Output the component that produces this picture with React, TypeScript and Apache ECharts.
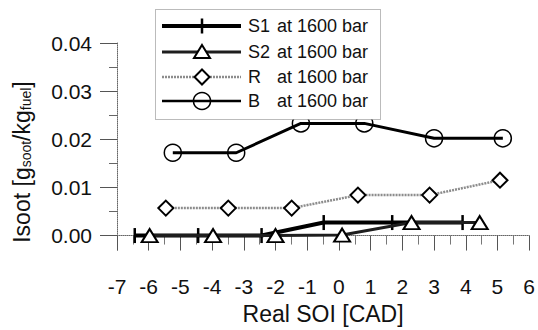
import React, { useEffect, useRef } from "react";
import * as echarts from "echarts";

const FONT = "Liberation Sans, Arial, Helvetica, sans-serif";

// Series data: x = Real SOI [CAD], y = Isoot [g_soot/kg_fuel]
const xS1 = [-6.44, -4.44, -2.44, -0.48, 1.68, 3.9];
const yS1 = [0, 0, 0, 0.0027, 0.0027, 0.0027];
const xS2 = [-5.97, -3.97, -2.0, 0.1, 2.29, 4.44];
const yS2 = [0, 0, 0, 0.0001, 0.0027, 0.0027];
const xR = [-5.46, -3.49, -1.49, 0.6, 2.86, 5.08];
const yR = [0.0057, 0.0057, 0.0057, 0.0084, 0.0084, 0.0115];
const xB = [-5.24, -3.24, -1.2, 0.8, 3.0, 5.17];
const yB = [0.0172, 0.0172, 0.0233, 0.0233, 0.0202, 0.0202];

const seriesNames = ["S1", "S2", "R", "B"];
const legendSuffix = "at 1600 bar";
const yMajorTicks = [0, 0.01, 0.02, 0.03, 0.04];
const yMinorTicks = [0.005, 0.015, 0.025, 0.035];
const xLabelName = "Real SOI [CAD]";

const pairs = (xs: number[], ys: number[]) => xs.map((x, i) => [x, ys[i]]);

export default function App() {
  const ref = useRef<HTMLDivElement>(null);
  useEffect(() => {
    document.body.style.margin = "0";
    if (!ref.current) return;
    const chart = echarts.init(ref.current, undefined, { renderer: "svg" });

    const axisLineStyle = { color: "#666", type: "dotted" as const, width: 1 };

    // Legend (drawn manually)
    const lx0 = 162, lx1 = 241, mx = 202, tx = 248, tx2 = 277;
    const rows = [26, 52, 77, 101];
    const legendEls: any[] = [
      {
        type: "rect",
        shape: { x: 155.5, y: 9.5, width: 225, height: 110 },
        style: { fill: "#fff", stroke: "#777", lineWidth: 1, lineDash: [1, 1] },
        z: 50,
      },
    ];
    const lineStyles = [
      { stroke: "#000", lineWidth: 4 },
      { stroke: "#1e1e1e", lineWidth: 3 },
      { stroke: "#8c8c8c", lineWidth: 2.5, lineDash: [2, 1] },
      { stroke: "#000", lineWidth: 2.5 },
    ];
    rows.forEach((ry, i) => {
      legendEls.push({
        type: "line",
        shape: { x1: lx0, y1: ry, x2: lx1, y2: ry },
        style: lineStyles[i],
        z: 51,
      });
      legendEls.push({
        type: "text",
        x: tx,
        y: ry,
        style: { text: seriesNames[i], fontSize: 18, fontFamily: FONT, fill: "#111", verticalAlign: "middle" },
        z: 52,
      });
      legendEls.push({
        type: "text",
        x: tx2,
        y: ry,
        style: { text: legendSuffix, fontSize: 18, fontFamily: FONT, fill: "#111", verticalAlign: "middle" },
        z: 52,
      });
    });
    legendEls.push({
      type: "rect",
      shape: { x: mx - 1.25, y: rows[0] - 7.5, width: 2.5, height: 15 },
      style: { fill: "#000" },
      z: 52,
    });
    legendEls.push({
      type: "polygon",
      shape: { points: [[mx, rows[1] - 7], [mx + 8, rows[1] + 6], [mx - 8, rows[1] + 6]] },
      style: { fill: "#fff", stroke: "#000", lineWidth: 2 },
      z: 52,
    });
    legendEls.push({
      type: "polygon",
      shape: { points: [[mx, rows[2] - 7.5], [mx + 7.5, rows[2]], [mx, rows[2] + 7.5], [mx - 7.5, rows[2]]] },
      style: { fill: "#fff", stroke: "#000", lineWidth: 2 },
      z: 52,
    });
    legendEls.push({
      type: "circle",
      shape: { cx: mx, cy: rows[3], r: 8.5 },
      style: { fill: "none", stroke: "#000", lineWidth: 1.5 },
      z: 52,
    });

    // Y axis title (rotated, with subscripts)
    legendEls.push({
      type: "text",
      x: 20,
      y: 162,
      rotation: Math.PI / 2,
      style: {
        text: "{m|Isoot [g}{s|soot}{m|/kg}{s|fuel}{m|]}",
        align: "center",
        verticalAlign: "middle",
        fill: "#111",
        rich: {
          m: { fontSize: 23, fontFamily: FONT, fill: "#111", lineHeight: 26, verticalAlign: "bottom" },
          s: { fontSize: 14, fontFamily: FONT, fill: "#111", lineHeight: 14, verticalAlign: "bottom", padding: [10, 0, 0, 0] },
        },
      },
    });

    const option: any = {
      animation: false,
      grid: { left: 117, right: 8, top: 43, bottom: 62, containLabel: false },
      xAxis: {
        type: "value",
        min: -7,
        max: 6,
        interval: 1,
        axisLine: { show: true, onZero: true, lineStyle: axisLineStyle },
        axisTick: { show: true, length: 15, lineStyle: { color: "#555", width: 1 } },
        minorTick: { show: true, splitNumber: 2, length: 9, lineStyle: { color: "#777", width: 1 } },
        axisLabel: { fontSize: 21, fontFamily: FONT, color: "#111", margin: 26 },
        splitLine: { show: false },
        name: xLabelName,
        nameLocation: "middle",
        nameGap: 52,
        nameTextStyle: { fontSize: 23, fontFamily: FONT, color: "#111" },
      },
      yAxis: [
        {
          type: "value",
          min: -0.003,
          max: 0.04,
          position: "left",
          axisLine: { show: true, onZero: false, lineStyle: axisLineStyle },
          axisTick: { show: true, customValues: yMajorTicks, length: 17, lineStyle: { color: "#555", width: 1 } },
          axisLabel: {
            customValues: yMajorTicks,
            formatter: (v: number) => v.toFixed(2),
            fontSize: 21,
            fontFamily: FONT,
            color: "#111",
            margin: 25,
          },
          splitLine: { show: false },
        },
        {
          type: "value",
          min: -0.003,
          max: 0.04,
          position: "left",
          axisLine: { show: false, onZero: false },
          axisTick: { show: true, customValues: yMinorTicks, length: 8, lineStyle: { color: "#666", width: 1 } },
          axisLabel: { show: false },
          splitLine: { show: false },
        },
      ],
      series: [
        {
          name: "S1",
          type: "line",
          data: pairs(xS1, yS1),
          symbol: "rect",
          symbolSize: [2.5, 15],
          itemStyle: { color: "#000" },
          lineStyle: { color: "#000", width: 4 },
          z: 2,
        },
        {
          name: "S2",
          type: "line",
          data: pairs(xS2, yS2),
          symbol: "triangle",
          symbolSize: [16, 13],
          itemStyle: { color: "#fff", borderColor: "#000", borderWidth: 2 },
          lineStyle: { color: "#1e1e1e", width: 3 },
          z: 3,
        },
        {
          name: "R",
          type: "line",
          data: pairs(xR, yR),
          symbol: "diamond",
          symbolSize: 15,
          itemStyle: { color: "#fff", borderColor: "#000", borderWidth: 2 },
          lineStyle: { color: "#8c8c8c", width: 2.5, type: [2, 1] },
          z: 4,
        },
        {
          name: "B",
          type: "line",
          data: pairs(xB, yB),
          symbol: "circle",
          symbolSize: 17,
          itemStyle: { color: "rgba(0,0,0,0)", borderColor: "#000", borderWidth: 1.5 },
          lineStyle: { color: "#000", width: 3 },
          z: 5,
        },
      ],
      graphic: legendEls,
    };
    chart.setOption(option);
    return () => chart.dispose();
  }, []);
  return <div ref={ref} style={{ width: 538, height: 330 }} />;
}
